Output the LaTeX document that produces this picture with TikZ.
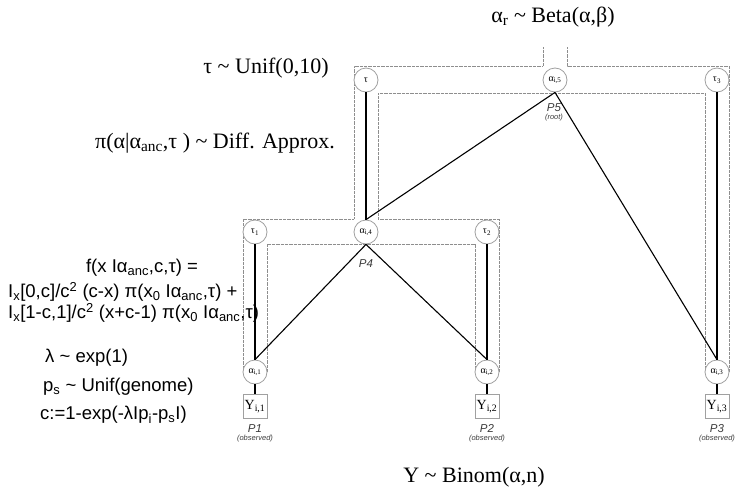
\documentclass[tikz,border=0pt]{standalone}
\usepackage{fontspec}
\setmainfont{Liberation Serif}
\setsansfont{Liberation Sans}
\usetikzlibrary{positioning}
\definecolor{plategray}{HTML}{8E8E8E}
\definecolor{nodegray}{HTML}{A0A0A0}
\definecolor{labelgray}{HTML}{3C3C3C}
\newcommand{\lo}[1]{\textsubscript{#1}}
\newcommand{\hi}[1]{\textsuperscript{#1}}

\begin{document}
\begin{tikzpicture}[x=1pt, y=-1pt,
    latent/.style={circle, draw=nodegray, fill=white, line width=0.8pt, minimum size=24pt, inner sep=0pt, font=\fontsize{10}{10}\selectfont},
    obs/.style={rectangle, draw=nodegray, fill=white, line width=0.8pt, minimum size=24pt, inner sep=0pt, font=\fontsize{14}{14}\selectfont},
    plate/.style={draw=plategray, line width=0.9pt, dash pattern=on 0.8pt off 0.5pt},
    drift/.style={line width=1.4pt},
    branch/.style={line width=1.1pt},
    pname/.style={font=\sffamily\itshape\fontsize{11.5}{11.5}\selectfont, text=labelgray, inner sep=0pt},
    pnote/.style={font=\sffamily\itshape\fontsize{7.5}{7.5}\selectfont, text=labelgray, inner sep=0pt},
    prior/.style={font=\fontsize{22}{24}\selectfont, inner sep=0pt},
    eqn/.style={font=\sffamily\fontsize{18.5}{21}\selectfont, inner sep=0pt},
  ]
  \useasboundingbox (0,0) rectangle (740,490);

  % nested plates of the tree
  \draw[plate] (543,47) -- (543,66) -- (354,66) -- (354,219) -- (243,219) -- (243,372);
  \draw[plate] (267,372) -- (267,244) -- (475,244) -- (475,372);
  \draw[plate] (499,372) -- (499,219) -- (378,219) -- (378,93) -- (705,93) -- (705,372);
  \draw[plate] (729,372) -- (729,66) -- (567,66) -- (567,47);

  % hidden nodes
  \node[latent] (tau) at (366,80) {τ};
  \node[latent] (a5) at (555,80) {α\lo{i,5}};
  \node[latent] (tau3) at (717,80) {τ\lo{3}};
  \node[latent] (tau1) at (255,232) {τ\lo{1}};
  \node[latent] (a4) at (366,232) {α\lo{i,4}};
  \node[latent] (tau2) at (487,232) {τ\lo{2}};
  \node[latent] (a1) at (255,372) {α\lo{i,1}};
  \node[latent] (a2) at (487,372) {α\lo{i,2}};
  \node[latent] (a3) at (717,372) {α\lo{i,3}};

  % observed counts
  \node[obs, below=10pt of a1] (y1) {Y\lo{i,1}};
  \node[obs, below=10pt of a2] (y2) {Y\lo{i,2}};
  \node[obs, below=10pt of a3] (y3) {Y\lo{i,3}};

  % population names
  \node[pname] (p5) at (554,108) {P5};
  \node[pnote, below=2pt of p5] (root) {(root)};
  \node[pname, below=15pt of a4] (p4) {P4};
  \node[pname, below=5pt of y1] (p1) {P1};
  \node[pnote, below=2pt of p1] (obs1) {(observed)};
  \node[pname, below=5pt of y2] (p2) {P2};
  \node[pnote, below=2pt of p2] (obs2) {(observed)};
  \node[pname, below=5pt of y3] (p3) {P3};
  \node[pnote, below=2pt of p3] (obs3) {(observed)};

  % edges
  \draw[drift] (tau) -- (a4);
  \draw[drift] (tau1) -- (a1);
  \draw[drift] (tau2) -- (a2);
  \draw[drift] (tau3) -- (a3);
  \draw[branch] (a5.south) -- (a4.north);
  \draw[branch] (a5.south) -- (a3.north);
  \draw[branch] (a4.south) -- (a1.north);
  \draw[branch] (a4.south) -- (a2.north);
  \draw[drift] (a1) -- (y1);
  \draw[drift] (a2) -- (y2);
  \draw[drift] (a3) -- (y3);

  % priors
  \node[prior] (beta) at (553,17) {α\lo{r} \textasciitilde{} Beta(α,β)};
  \node[prior] (unif) at (266,68) {τ \textasciitilde{} Unif(0,10)};
  \node[prior] (diff) at (215,143) {π(α|α\lo{anc},τ ) \textasciitilde{} Diff. Approx.};
  \node[prior] (binom) at (474,477) {Y \textasciitilde{} Binom(α,n)};

  % transition density
  \node[eqn] (f1) at (142,268) {f(x Iα\lo{anc},c,τ) =};
  \node[eqn, anchor=west] (f2) at (8,292) {I\lo{x}[0,c]/c\hi{2} (c-x) π(x\lo{0} Iα\lo{anc},τ) +};
  \node[eqn, anchor=west] (f3) at (8,313) {I\lo{x}[1-c,1]/c\hi{2} (x+c-1) π(x\lo{0} Iα\lo{anc},τ)};
  \node[eqn, anchor=west] (lam) at (45,358) {λ \textasciitilde{} exp(1)};
  \node[eqn, anchor=west] (ps) at (43,387) {p\lo{s} \textasciitilde{} Unif(genome)};
  \node[eqn, anchor=west] (cdef) at (40,415) {c:=1-exp(-λIp\lo{i}-p\lo{s}I)};
\end{tikzpicture}
\end{document}
